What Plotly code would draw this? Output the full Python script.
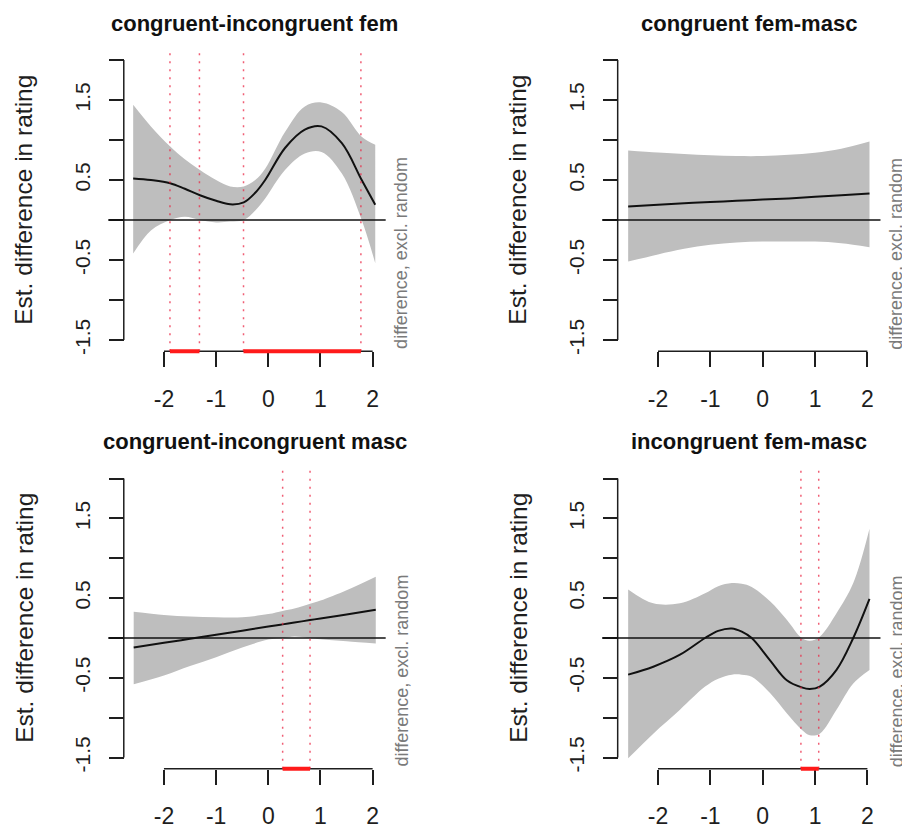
import plotly.graph_objects as go

# ---------------- data ----------------
titles = ["congruent-incongruent fem", "congruent fem-masc",
          "congruent-incongruent masc", "incongruent fem-masc"]
y_title = "Est. difference in rating"
side_note = "difference, excl. random"
x_ticks = [-2, -1, 0, 1, 2]
x_ticklabels = ["-2", "-1", "0", "1", "2"]
y_ticks = [-1.5, -1.0, -0.5, 0.0, 0.5, 1.0, 1.5, 2.0]
y_ticklabels = ["-1.5", "", "-0.5", "", "0.5", "", "1.5", ""]

# panel 1: congruent-incongruent fem
p1_x = [-2.59, -2.25, -1.88, -1.6, -1.31, -1.0, -0.73, -0.47, -0.25, -0.06, 0.32, 0.70, 1.02, 1.41, 1.79, 2.05]
p1_fit = [0.52, 0.50, 0.46, 0.39, 0.31, 0.24, 0.196, 0.22, 0.34, 0.50, 0.90, 1.13, 1.17, 0.96, 0.50, 0.19]
p1_upper = [1.44, 1.17, 0.92, 0.76, 0.625, 0.50, 0.42, 0.42, 0.50, 0.64, 1.10, 1.42, 1.47, 1.35, 1.04, 0.94]
p1_lower = [-0.42, -0.13, 0.0, 0.04, 0.0, -0.03, -0.02, 0.0, 0.12, 0.27, 0.625, 0.83, 0.85, 0.58, 0.0, -0.54]
p1_signif = [(-1.885, -1.32), (-0.475, 1.775)]

# panel 2: congruent fem-masc
p2_x = [-2.57, -2.0, -1.5, -1.0, -0.5, 0.0, 0.5, 1.0, 1.5, 2.04]
p2_fit = [0.17, 0.19, 0.21, 0.225, 0.24, 0.255, 0.27, 0.29, 0.31, 0.33]
p2_upper = [0.87, 0.845, 0.825, 0.81, 0.80, 0.80, 0.815, 0.84, 0.89, 0.98]
p2_lower = [-0.52, -0.43, -0.36, -0.31, -0.28, -0.27, -0.27, -0.27, -0.29, -0.34]
p2_signif = []

# panel 3: congruent-incongruent masc
p3_x = [-2.58, -2.0, -1.5, -1.0, -0.5, 0.0, 0.275, 0.5, 0.8, 1.0, 1.5, 2.06]
p3_fit = [-0.12, -0.061, -0.01, 0.041, 0.092, 0.143, 0.171, 0.194, 0.225, 0.245, 0.296, 0.353]
p3_upper = [0.33, 0.29, 0.27, 0.26, 0.26, 0.30, 0.34, 0.37, 0.43, 0.47, 0.60, 0.77]
p3_lower = [-0.58, -0.47, -0.35, -0.24, -0.12, -0.02, 0.0, 0.02, 0.0, -0.015, -0.04, -0.07]
p3_signif = [(0.275, 0.80)]

# panel 4: incongruent fem-masc
p4_x = [-2.57, -2.09, -1.58, -1.10, -0.85, -0.59, -0.40, -0.21, 0.14, 0.46, 0.745, 0.90, 1.09, 1.41, 1.73, 2.04]
p4_fit = [-0.46, -0.36, -0.21, 0.0, 0.09, 0.12, 0.08, 0.0, -0.28, -0.53, -0.62, -0.64, -0.61, -0.40, 0.0, 0.49]
p4_upper = [0.61, 0.435, 0.435, 0.56, 0.65, 0.69, 0.68, 0.64, 0.46, 0.23, 0.0, -0.035, 0.017, 0.31, 0.69, 1.37]
p4_lower = [-1.51, -1.20, -0.90, -0.61, -0.51, -0.46, -0.46, -0.485, -0.69, -0.945, -1.15, -1.22, -1.20, -0.90, -0.57, -0.40]
p4_signif = [(0.73, 1.07)]

# ---------------- layout geometry (pixels) ----------------
W, H = 902, 828
FONT = "Liberation Sans, Arial, Helvetica, sans-serif"
INK = "#1e1e1e"
# (x-origin px, px per x unit, y-origin px, px per y unit)
geom = [(268.3, 52.17, 220.0, 80.0), (762.7, 52.35, 220.0, 80.0),
        (268.3, 52.17, 638.0, 79.7), (762.7, 52.35, 638.0, 79.7)]
XR = (-3.07, 2.25)     # plotting region
YR = (-1.70, 2.14)
YAX_X = -2.77          # where the y axis is drawn
XAX_Y = -1.64          # where the x axis is drawn

panels = [(p1_x, p1_fit, p1_upper, p1_lower, p1_signif),
          (p2_x, p2_fit, p2_upper, p2_lower, p2_signif),
          (p3_x, p3_fit, p3_upper, p3_lower, p3_signif),
          (p4_x, p4_fit, p4_upper, p4_lower, p4_signif)]

fig = go.Figure()
shapes = []
annotations = []
layout = {}

for i, ((px, fit, up, lo, sig), (x0, sx, y0, sy), title) in enumerate(zip(panels, geom, titles)):
    n = i + 1
    xa = "x" if n == 1 else f"x{n}"
    ya = "y" if n == 1 else f"y{n}"
    xkey = "xaxis" if n == 1 else f"xaxis{n}"
    ykey = "yaxis" if n == 1 else f"yaxis{n}"

    # confidence band
    fig.add_trace(go.Scatter(x=px, y=lo, xaxis=xa, yaxis=ya, mode="lines",
                             line=dict(width=0, shape="spline", color="#bebebe"),
                             showlegend=False, hoverinfo="skip"))
    fig.add_trace(go.Scatter(x=px, y=up, xaxis=xa, yaxis=ya, mode="lines",
                             line=dict(width=0, shape="spline", color="#bebebe"),
                             fill="tonexty", fillcolor="#bebebe",
                             showlegend=False, hoverinfo="skip"))
    # fitted difference
    fig.add_trace(go.Scatter(x=px, y=fit, xaxis=xa, yaxis=ya, mode="lines",
                             line=dict(width=2, shape="spline", color="#111111"),
                             showlegend=False))

    # pixel -> paper
    dom_x = [(x0 + XR[0] * sx) / W, (x0 + XR[1] * sx) / W]
    dom_y = [1 - (y0 - YR[0] * sy) / H, 1 - (y0 - YR[1] * sy) / H]
    ypos_paper = (x0 + YAX_X * sx) / W
    xpos_paper = 1 - (y0 - XAX_Y * sy) / H

    layout[xkey] = dict(domain=dom_x, range=list(XR), anchor="free", position=xpos_paper,
                        showgrid=False, zeroline=False, showline=False,
                        tickmode="array", tickvals=x_ticks, ticktext=x_ticklabels,
                        ticks="outside", ticklen=15, tickwidth=1.5, tickcolor=INK,
                        ticklabelstandoff=12,
                        tickfont=dict(family=FONT, size=23, color=INK))
    layout[ykey] = dict(domain=dom_y, range=list(YR), anchor="free", position=ypos_paper,
                        showgrid=False, zeroline=False, showline=False,
                        tickmode="array", tickvals=y_ticks, ticktext=y_ticklabels,
                        tickangle=-90,
                        ticks="outside", ticklen=15, tickwidth=1.5, tickcolor=INK,
                        ticklabelstandoff=10,
                        tickfont=dict(family=FONT, size=21, color=INK))

    # axis lines (R style: from first to last tick)
    shapes.append(dict(type="line", xref=xa, yref=ya, x0=YAX_X, x1=YAX_X,
                       y0=y_ticks[0], y1=y_ticks[-1], line=dict(color=INK, width=1.5)))
    shapes.append(dict(type="line", xref=xa, yref=ya, x0=x_ticks[0], x1=x_ticks[-1],
                       y0=XAX_Y, y1=XAX_Y, line=dict(color=INK, width=1.5)))
    # zero reference line
    shapes.append(dict(type="line", xref=f"{xa} domain", yref=ya, x0=0, x1=1, y0=0, y1=0,
                       layer="above", line=dict(color="#111111", width=1.5)))
    # significance markers
    for a, b in sig:
        for v in (a, b):
            shapes.append(dict(type="line", xref=xa, yref=ya, x0=v, x1=v,
                               y0=XAX_Y, y1=YR[1], layer="above",
                               line=dict(color="rgba(235,40,70,0.75)", width=1.5, dash="2px,6px")))
        shapes.append(dict(type="line", xref=xa, yref=ya, x0=a, x1=b, y0=XAX_Y, y1=XAX_Y,
                           layer="above", line=dict(color="#ff1a1a", width=4)))

    # panel title
    cx = (x0 + (YAX_X + XR[1]) / 2 * sx) / W
    ty = 23 if n <= 2 else 441
    annotations.append(dict(text=f"<b>{title}</b>", xref="paper", yref="paper",
                            x=cx, y=1 - ty / H, xanchor="center", yanchor="middle",
                            showarrow=False, font=dict(family=FONT, size=22, color="#111111")))
    # y axis title
    yax_px = x0 + YAX_X * sx
    annotations.append(dict(text=y_title, xref="paper", yref="paper",
                            x=(yax_px - 100) / W, y=1 - (y0 - 0.25 * sy) / H,
                            xanchor="center", yanchor="middle", textangle=-90,
                            showarrow=False, font=dict(family=FONT, size=24.5, color=INK)))
    # side note
    annotations.append(dict(text=side_note, xref="paper", yref="paper",
                            x=(x0 + XR[1] * sx + 16) / W, y=1 - (y0 - XAX_Y * sy) / H,
                            xanchor="center", yanchor="bottom", textangle=-90,
                            showarrow=False, font=dict(family=FONT, size=18, color="#7a7a7a")))

fig.update_layout(width=W, height=H, autosize=False,
                  margin=dict(l=0, r=0, t=0, b=0),
                  paper_bgcolor="white", plot_bgcolor="white",
                  showlegend=False, shapes=shapes, annotations=annotations, **layout)

fig.write_html("out.html", config={"displayModeBar": False},
               post_script="document.body.style.margin='0px';")
